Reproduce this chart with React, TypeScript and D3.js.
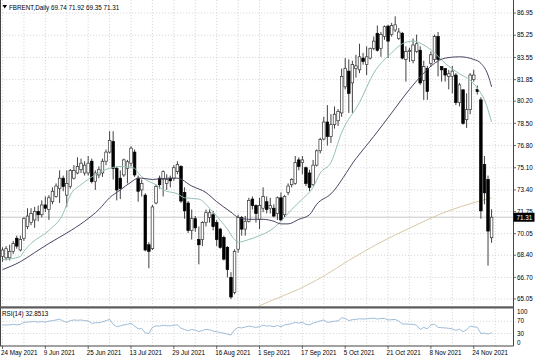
import React from 'react';
import * as d3 from 'd3';

// ---- Data ----
const opens = [68.3,68.2,68.2,68.7,69.7,68.8,69.7,70.6,70.9,71.1,71.75,71.5,72.25,71.9,72.5,72.9,73.5,74.3,73.0,73.66,74.3,74.7,74.95,74.7,74.7,75.6,74.04,74.55,74.7,75.6,76.3,77.1,75.06,74.3,74.55,75.06,75.45,76.3,74.3,73.4,73.0,69.2,68.9,72.4,74.3,74.2,73.9,74.3,74.3,74.8,75.2,73.2,72.4,70.3,71.2,69.6,69.6,70.9,71.3,71.5,70.9,70.4,69.75,69.0,66.7,65.55,68.86,71.28,70.4,71.0,72.7,72.2,71.15,72.0,72.5,72.0,72.0,71.6,72.8,71.5,73.2,73.8,73.9,75.7,75.5,75.1,74.7,73.8,75.3,76.4,77.3,78.6,77.5,78.4,78.7,79.3,81.3,82.5,81.6,82.7,82.6,83.5,83.0,83.5,84.25,85.4,84.25,85.15,85.95,85.3,85.65,85.0,85.4,83.4,84.0,83.3,84.0,84.1,81.8,82.7,83.1,83.4,85.15,82.85,82.7,82.1,82.1,82.2,80.1,81.07,78.78,79.55,81.85,81.1,80.3,75.35,74.2,69.74];
const highs = [69.0,69.1,69.2,69.5,69.9,69.9,71.3,72.0,72.0,72.1,72.2,72.6,72.9,73.0,73.6,73.9,74.9,74.5,74.9,75.0,75.3,75.9,75.8,75.6,76.0,75.8,74.9,75.2,75.8,76.5,77.9,77.9,75.2,74.9,75.8,75.7,76.75,76.5,74.5,74.2,73.15,69.4,72.25,73.8,74.5,74.9,74.6,74.5,75.3,75.6,75.3,73.6,72.55,71.9,71.4,70.6,71.0,71.9,71.9,71.8,71.1,70.5,69.9,69.1,67.1,68.85,71.5,71.4,71.4,72.8,72.9,72.3,72.8,73.6,72.9,72.8,72.3,72.9,73.2,73.0,73.9,74.3,76.0,75.9,76.0,75.2,74.95,75.7,76.5,77.4,79.0,79.9,79.2,79.8,79.6,82.7,83.5,83.4,83.3,83.75,84.6,83.9,84.4,84.3,85.15,86.0,85.5,86.0,86.05,86.2,86.7,85.8,85.5,84.4,84.3,85.0,85.3,84.4,83.3,82.9,84.0,85.3,85.5,82.85,82.7,82.6,82.9,82.35,81.6,81.1,80.8,82.35,82.6,81.4,80.5,76.0,74.5,71.92];
const lows = [67.9,68.0,68.0,68.5,68.9,68.7,69.5,70.4,70.7,70.5,71.0,71.3,71.7,71.1,72.3,72.8,72.4,73.3,72.1,73.5,74.2,74.6,74.7,74.5,74.5,73.9,73.4,74.3,74.4,75.3,76.2,74.2,72.6,72.7,74.4,73.9,75.2,74.4,72.5,72.9,68.7,67.4,68.8,72.3,73.5,72.9,73.4,73.6,74.1,74.6,72.4,71.2,70.1,69.6,70.2,67.7,69.1,70.6,70.9,70.3,69.1,68.9,68.0,66.7,65.05,65.4,68.6,69.9,69.9,70.9,71.9,70.9,70.4,71.7,71.6,71.6,71.3,71.1,71.0,71.3,73.0,73.6,73.8,74.9,74.6,73.7,73.3,73.7,75.2,76.2,77.2,76.8,77.0,78.1,78.3,79.0,81.1,79.3,79.3,82.0,82.35,83.0,82.2,83.4,84.1,84.0,83.6,84.9,83.5,85.15,85.5,84.9,83.4,81.7,83.2,83.1,83.9,81.45,80.3,80.3,82.85,83.2,82.1,81.7,81.7,81.1,80.8,79.9,79.8,78.4,78.15,79.2,81.7,80.7,71.2,72.3,67.6,69.35];
const closes = [68.8,68.9,68.7,69.3,69.1,69.6,71.2,71.4,71.6,71.75,71.5,72.25,72.0,72.8,73.3,73.7,74.3,73.66,73.9,74.9,74.9,75.2,75.45,75.3,75.45,74.04,74.7,74.95,75.6,76.3,77.2,75.06,73.4,73.5,75.7,75.56,76.6,74.55,73.3,73.9,68.8,68.7,72.1,73.66,73.8,74.8,74.2,74.1,75.1,75.35,72.55,71.8,70.3,71.2,70.5,69.2,70.9,71.66,71.66,70.6,69.6,69.0,68.1,67.3,65.2,68.7,71.28,70.4,71.0,72.6,72.2,71.6,72.2,72.9,71.9,72.2,71.4,72.8,71.1,72.9,73.7,74.2,75.5,75.2,75.7,73.9,73.6,75.3,76.4,77.26,78.6,77.5,78.4,79.2,79.4,82.1,82.7,80.8,83.0,82.9,83.6,83.24,83.6,84.25,84.8,84.1,85.3,85.9,84.8,86.0,86.05,85.5,83.5,84.0,84.1,84.5,84.6,81.6,82.85,80.95,83.75,85.15,83.4,82.6,82.2,82.3,82.5,80.1,81.45,78.5,79.55,82.2,82.2,80.95,71.8,73.18,70.25,71.31];

// moving averages read at sample bars
const fastMaIdx = [0,5,6,8,13,17,19,22,26,30,33,37,38,40,43,45,49,51,55,58,60,63,65,66,69,72,75,78,81,84,87,89,92,95,100,104,109,112,115,118,121,124,128,131,133,135,137];
const fastMaVal = [68.05,68.3,68.7,69.3,70.3,71.6,73.0,73.8,74.55,75.06,75.2,75.06,74.7,74.2,73.8,73.4,73.1,72.8,72.7,72.0,71.4,70.4,69.6,69.4,69.6,69.9,70.3,71.0,71.9,72.7,73.6,74.7,75.5,77.8,80.1,82.35,83.9,84.6,84.8,84.5,83.9,83.1,82.3,81.8,81.2,80.3,78.6];
const slowMaIdx = [0,5,9,13,18,23,27,30,33,36,38,39,42,46,49,53,57,60,64,66,69,73,76,78,80,83,86,88,92,99,104,109,114,118,121,124,128,132,134,136,137];
const slowMaVal = [67.3,67.9,68.6,69.3,70.1,71.0,71.9,72.8,73.4,74.0,74.3,74.3,74.2,74.3,74.3,73.7,73.2,72.5,71.7,71.3,71.15,71.15,71.0,70.8,70.8,71.15,71.5,72.3,73.1,75.8,77.5,79.3,81.1,82.35,83.1,83.5,83.6,83.4,83.1,82.2,81.3];
const ma200Idx = [70,76,83,90,97,106,115,124,133,137];
const ma200Val = [64.3,65.0,65.8,66.8,68.0,69.4,70.6,71.7,72.5,72.8];

const rsiVals = [57,58,58,60,58,60,66,67,68,69,67,69,67,70,72,74,77,70,66,72,74,73,74,72,71,63,65,65,68,72,76,60,52,55,58,60,63,54,45,46,32,30,50,55,54,57,55,55,57,58,47,43,39,43,41,36,40,43,42,38,36,33,31,28,25,42,50,48,51,54,52,50,52,57,54,55,52,56,52,58,60,62,66,64,66,60,58,64,67,71,74,66,68,70,71,81,79,72,75,76,78,77,78,79,80,77,79,79,74,75,76,70,61,61,60,60,57,43,50,45,58,60,50,49,48,47,45,40,44,36,42,54,52,50,30,31,28,32.8513];

const priceTicks = [86.95,85.25,83.55,81.85,80.20,78.50,76.80,75.10,73.40,71.75,70.05,68.40,66.70,65.05];
const rsiTicks = [100,70,30,0];
const dateLabels = ['24 May 2021','9 Jun 2021','25 Jun 2021','13 Jul 2021','29 Jul 2021','16 Aug 2021','1 Sep 2021','17 Sep 2021','5 Oct 2021','21 Oct 2021','8 Nov 2021','24 Nov 2021'];
const dateLabelIdx = [0,12,24,36,48,60,72,84,96,108,120,132];

const symbol = 'FBRENT,Daily';
const lastPrice = 71.31;

export default function App() {
  const W = 536, H = 357;
  const plotRight = 513.5;
  const mainBottom = 306;
  const font = "'Liberation Sans', Arial, sans-serif";
  const fs = 6.3;

  const x = d3.scaleLinear().domain([0, 137]).range([2.5, 2.5 + 137 * 3.57]);
  const y = d3.scaleLinear().domain([64.51, 87.95]).range([mainBottom, 0]);
  const yR = d3.scaleLinear().domain([0, 100]).range([342.7, 312]);

  const curve = d3.curveMonotoneX;
  const maLine = (idx: number[], vals: number[]) =>
    d3.line<number>().x((_, k) => x(idx[k])).y(v => y(v)).curve(curve)(vals) || '';
  const rsiPath = d3.line<number>().x((_, k) => x(k)).y(v => yR(v))(rsiVals) || '';

  const gridXs: number[] = [];
  for (let k = 0; x(k) < plotRight; k += 6) gridXs.push(x(k));

  const bw = 2.6;
  const fmt = (v: number) => v.toFixed(2);
  const title = `${symbol}  ${fmt(opens[opens.length-1])} ${fmt(highs[highs.length-1])} ${fmt(lows[lows.length-1])} ${fmt(closes[closes.length-1])}`;

  return (
    <svg width={W} height={H} style={{ position: 'absolute', left: 0, top: 0, background: '#fff' }} fontFamily={font}>
      <defs>
        <clipPath id="mainClip"><rect x={0} y={0} width={plotRight} height={mainBottom} /></clipPath>
        <clipPath id="rsiClip"><rect x={0} y={309} width={plotRight} height={37} /></clipPath>
      </defs>
      <rect x={0} y={0} width={W} height={H} fill="#fff" />
      {/* grid */}
      <g stroke="#c9c9c9" strokeWidth={0.7} strokeDasharray="1.2 1.8">
        {priceTicks.map(t => <line key={'h' + t} x1={0} x2={plotRight} y1={y(t)} y2={y(t)} />)}
        {gridXs.map(gx => <line key={'v' + gx} x1={gx} x2={gx} y1={0} y2={mainBottom} />)}
        {gridXs.map(gx => <line key={'rv' + gx} x1={gx} x2={gx} y1={309} y2={346} />)}
        {[70, 30].map(t => <line key={'r' + t} x1={0} x2={plotRight} y1={yR(t)} y2={yR(t)} />)}
      </g>
      {/* last price line */}
      <line x1={0} x2={plotRight} y1={y(lastPrice)} y2={y(lastPrice)} stroke="#b0b0b0" strokeWidth={0.7} />
      <g clipPath="url(#mainClip)">
        <path d={maLine(ma200Idx, ma200Val)} fill="none" stroke="#d9c9a6" strokeWidth={1} />
        {/* candles */}
        {closes.map((c, i) => {
          const o = opens[i];
          const up = c >= o;
          const top = y(Math.max(o, c));
          const bot = y(Math.min(o, c));
          return (
            <g key={i}>
              <line x1={x(i)} x2={x(i)} y1={y(highs[i])} y2={y(lows[i])} stroke="#111" strokeWidth={0.8} />
              <rect x={x(i) - bw / 2} y={top} width={bw} height={Math.max(0.8, bot - top)}
                fill={up ? '#fff' : '#000'} stroke={up ? '#333' : '#000'} strokeWidth={0.7} />
            </g>
          );
        })}
        <path d={maLine(fastMaIdx, fastMaVal)} fill="none" stroke="#93c1b8" strokeWidth={1} />
        <path d={maLine(slowMaIdx, slowMaVal)} fill="none" stroke="#4b4461" strokeWidth={1} />
      </g>
      {/* RSI */}
      <path d={rsiPath} fill="none" stroke="#93b6d4" strokeWidth={0.9} clipPath="url(#rsiClip)" />
      {/* frame */}
      <line x1={0.5} x2={0.5} y1={0} y2={346} stroke="#444" strokeWidth={1} />
      <line x1={plotRight} x2={plotRight} y1={0} y2={346} stroke="#444" strokeWidth={1} />
      <rect x={0} y={306.3} width={plotRight} height={2.2} fill="#5a5a5a" />
      <line x1={0} x2={plotRight} y1={346} y2={346} stroke="#444" strokeWidth={1} />
      {/* price axis */}
      <g fontSize={fs} fill="#000">
        {priceTicks.map(t => (
          <g key={'pt' + t}>
            <line x1={plotRight} x2={plotRight + 2.5} y1={y(t)} y2={y(t)} stroke="#444" strokeWidth={0.8} />
            <text x={517} y={y(t) + 2.2}>{t.toFixed(2)}</text>
          </g>
        ))}
        {rsiTicks.map(t => (
          <text key={'rt' + t} x={517} y={yR(t) + 2.2}>{t}</text>
        ))}
      </g>
      <rect x={plotRight} y={y(lastPrice) - 4.5} width={21} height={9} fill="#000" />
      <text x={516.5} y={y(lastPrice) + 2.3} fontSize={fs} fill="#fff">{lastPrice.toFixed(2)}</text>
      {/* date axis */}
      <g fontSize={fs} fill="#000">
        {dateLabelIdx.map((di, k) => (
          <g key={'d' + di}>
            <line x1={x(di)} x2={x(di)} y1={346} y2={349} stroke="#444" strokeWidth={0.8} />
            <text x={x(di) - 1.5} y={354.5}>{dateLabels[k]}</text>
          </g>
        ))}
      </g>
      {/* titles */}
      <path d="M2.5,5 L7,5 L4.75,8.5 Z" fill="#000" />
      <text x={9} y={9.5} fontSize={fs} fill="#000">{title}</text>
      <text x={2} y={315.5} fontSize={fs} fill="#000">{`RSI(14) ${rsiVals[rsiVals.length - 1].toFixed(4)}`}</text>
    </svg>
  );
}
